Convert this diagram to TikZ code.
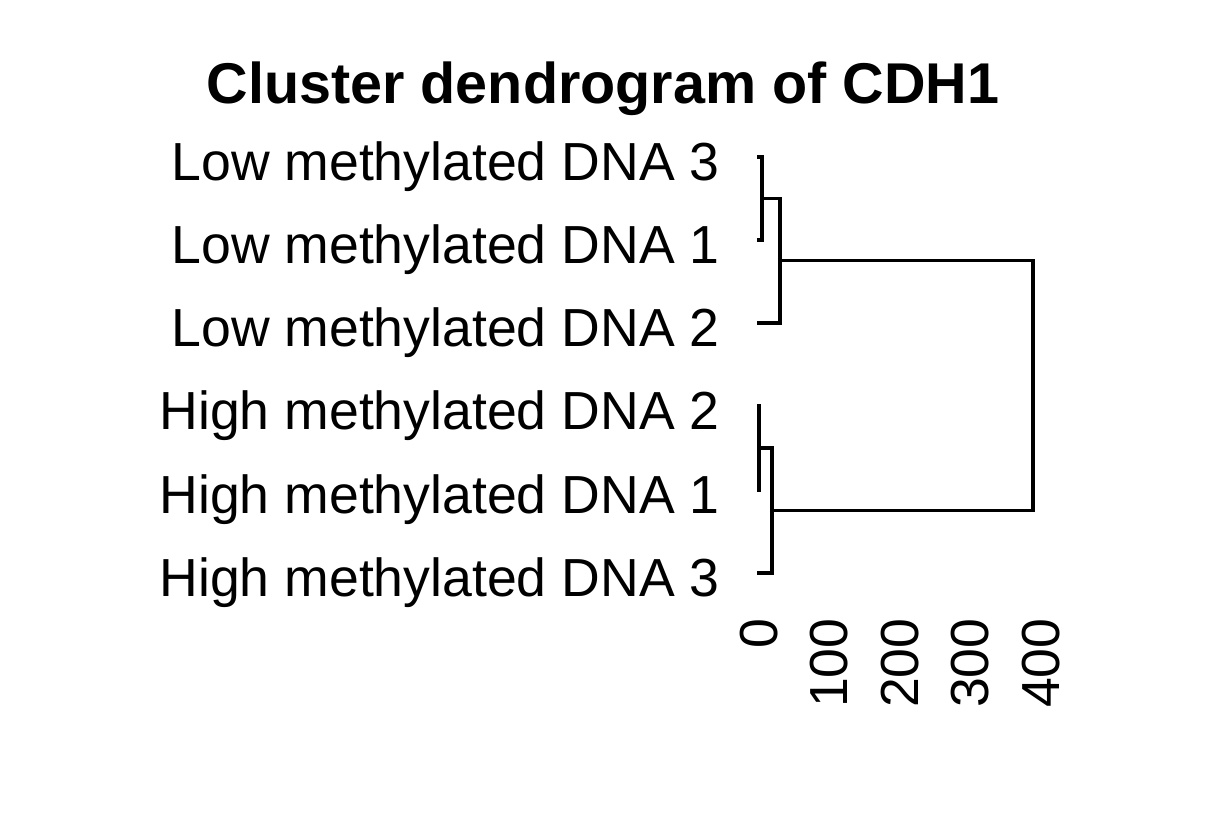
\documentclass[tikz,border=0pt]{standalone}
\usepackage{fontspec}
\setmainfont{Liberation Sans}
\begin{document}
\begin{tikzpicture}[x=0.5pt,y=-0.5pt,
  lbl/.style={inner sep=0pt,anchor=base east,font=\fontsize{26.8}{30}\selectfont},
  tick/.style={inner sep=0pt,anchor=base east,rotate=90,font=\fontsize{26.8}{30}\selectfont},
  ttl/.style={inner sep=0pt,anchor=base,font=\fontsize{28.75}{32}\selectfont\bfseries},
  branch/.style={line width=1.6pt,line join=miter}]
\useasboundingbox[fill=white] (0,0) rectangle (1208,820);
\node[ttl] (title) at (603,103) {Cluster dendrogram of CDH1};
% leaves
\coordinate (L3) at (757,157);
\coordinate (L1) at (757,240);
\coordinate (L2) at (757,323);
\coordinate (H2) at (757,406);
\coordinate (H1) at (757,490);
\coordinate (H3) at (757,573);
\node[lbl] (tL3) at (720,180) {Low methylated DNA 3};
\node[lbl] (tL1) at (720,263) {Low methylated DNA 1};
\node[lbl] (tL2) at (720,346) {Low methylated DNA 2};
\node[lbl] (tH2) at (720,429) {High methylated DNA 2};
\node[lbl] (tH1) at (720,513) {High methylated DNA 1};
\node[lbl] (tH3) at (720,596) {High methylated DNA 3};
% merges
\coordinate (a) at (762,198.5);
\coordinate (b) at (780,260.75);
\coordinate (c) at (759,448);
\coordinate (d) at (772,510.5);
\coordinate (r) at (1033,385.6);
\draw[branch] (L3) -| (a |- L3) -- (a |- L1) -- (L1);
\draw[branch] (a) -- (b |- a) -- (b |- L2) -- (L2);
\draw[branch] (H2) -- (c |- H2) -- (c |- H1) -- (H1);
\draw[branch] (c) -- (d |- c) -- (d |- H3) -- (H3);
\draw[branch] (b) -- (r |- b) -- (r |- d) -- (d);
% axis tick labels
\foreach \v [count=\i] in {0,100,200,300,400}{
  \node[tick] (tk\i) at ({777+0.705*\v},618) {\v};
}
\end{tikzpicture}
\end{document}
